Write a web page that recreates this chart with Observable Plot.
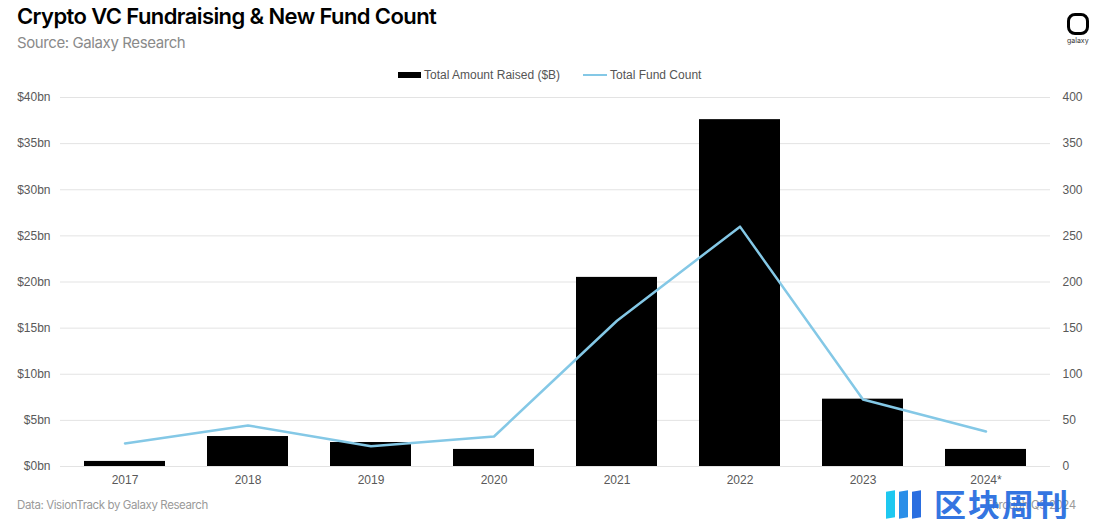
<!DOCTYPE html>
<html>
<head>
<meta charset="utf-8">
<script src="https://cdn.jsdelivr.net/npm/d3@7"></script>
<script src="https://cdn.jsdelivr.net/npm/@observablehq/plot@0.6"></script>
<style>
  html, body { margin: 0; padding: 0; background: #fff; }
  body { width: 1100px; height: 519px; position: relative; overflow: hidden; font-family: "Liberation Sans", Arial, sans-serif; }
  #title { position: absolute; left: 17px; top: 3px; font-family: Inter, sans-serif; font-weight: 600; font-size: 22px; letter-spacing: -0.6px; color: #000; }
  #subtitle { position: absolute; left: 17px; top: 33px; font-family: Inter, sans-serif; font-size: 15px; letter-spacing: -0.4px; color: #8a8a8a; }
  #legend { position: absolute; left: 0; width: 1100px; top: 68px; font-size: 12px; color: #555; }
  .lg { position: absolute; top: 0; white-space: nowrap; }
  #chart { position: absolute; left: 0; top: 85px; }
  #footL { position: absolute; left: 17px; top: 498px; font-family: Inter, sans-serif; font-size: 11.5px; letter-spacing: -0.4px; color: #9a9a9a; }
  #footR { position: absolute; left: 985px; top: 498px; font-family: Inter, sans-serif; font-size: 11.5px; letter-spacing: -0.4px; color: #9a9a9a; }
  #logo { position: absolute; left: 1067px; top: 13px; width: 22px; height: 22px; border: 3px solid #000; border-radius: 8px; box-sizing: border-box; }
  #logoT { position: absolute; left: 1067px; top: 37px; font-size: 7px; line-height: 8px; color: #333; font-family: Inter, sans-serif; }
  #wm { position: absolute; left: 934px; top: 489px; font-family: "Noto Sans CJK SC", sans-serif; font-size: 32px; line-height: 28px; font-weight: 700; color: #2a6ee0; letter-spacing: 2px; opacity: 0.95; }
  .bar { position: absolute; top: 491px; width: 9px; height: 27px; transform: skewY(-8deg); }
</style>
</head>
<body>
<div id="title">Crypto VC Fundraising &amp; New Fund Count</div>
<div id="subtitle">Source: Galaxy Research</div>
<div id="logo"></div><div id="logoT">galaxy</div>
<div id="legend">
  <div class="lg" style="left:398px"><span style="display:inline-block;width:23px;height:6px;background:#000;vertical-align:middle;margin-right:3px;position:relative;top:-1px"></span>Total Amount Raised ($B)</div>
  <div class="lg" style="left:583px"><span style="display:inline-block;width:24px;height:2.5px;background:#84c8e6;vertical-align:middle;margin-right:3px;position:relative;top:-1px"></span>Total Fund Count</div>
</div>
<div id="chart"></div>
<div id="footL">Data: VisionTrack by Galaxy Research</div>
<div id="footR">Through Q3 2024</div>
<div class="bar" style="left:886px;background:#1ec8f0"></div>
<div class="bar" style="left:899px;background:#2a8ee8"></div>
<div class="bar" style="left:912px;background:#2a6ee0"></div>
<div id="wm">区块周刊</div>
<script>
const years = ["2017", "2018", "2019", "2020", "2021", "2022", "2023", "2024*"];
const amountRaised = [0.55, 3.25, 2.6, 1.85, 20.5, 37.6, 7.3, 1.85];
const fundCount = [25, 44.5, 22, 32.5, 158, 260, 72.6, 38];
const leftTicks = [0, 5, 10, 15, 20, 25, 30, 35, 40];
const rightTicks = [0, 50, 100, 150, 200, 250, 300, 350, 400];

const ratio = 10; // fund count per $bn on the shared y scale
const bars = years.map((y, i) => ({year: y, value: amountRaised[i]}));
const pts = years.map((y, i) => ({year: y, count: fundCount[i]}));

const chart = Plot.plot({
  width: 1100,
  height: 415,
  marginTop: 12,
  marginBottom: 34,
  marginLeft: 60,
  marginRight: 50,
  style: {fontFamily: "'Liberation Sans', Arial, sans-serif", fontSize: "12px", color: "#595959", background: "transparent"},
  x: {domain: years, paddingInner: 0.34, paddingOuter: 0.17, label: null},
  y: {domain: [0, 40], label: null},
  marks: [
    Plot.ruleY(leftTicks, {stroke: "#e3e3e3", strokeWidth: 1}),
    Plot.barY(bars, {x: "year", y: "value", fill: "#000"}),
    Plot.line(pts, {x: "year", y: d => d.count / ratio, stroke: "#84c8e6", strokeWidth: 2.5}),
    Plot.axisX({tickSize: 0, tickPadding: 9, label: null, fontSize: 12}),
    Plot.axisY({anchor: "left", ticks: leftTicks, tickSize: 0, tickPadding: 10, tickFormat: d => `$${d}bn`, label: null}),
    Plot.axisY({anchor: "right", ticks: rightTicks.map(t => t / ratio), tickSize: 0, tickPadding: 12, tickFormat: d => String(Math.round(d * ratio)), label: null})
  ]
});
document.getElementById("chart").appendChild(chart);
</script>
</body>
</html>
